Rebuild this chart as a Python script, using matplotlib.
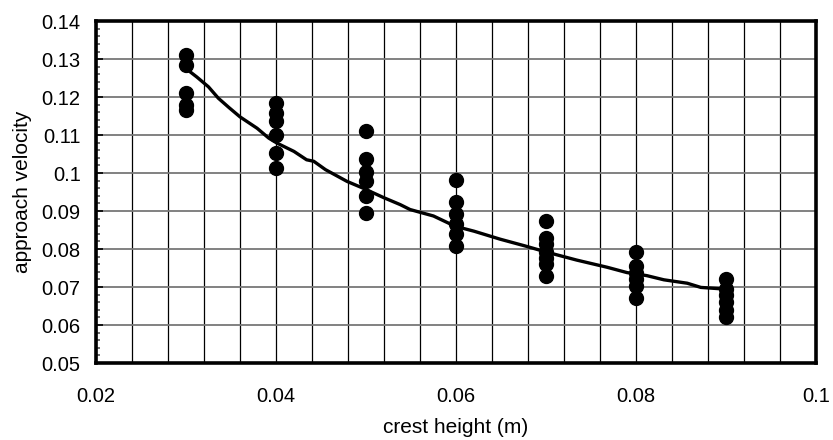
import matplotlib
matplotlib.use("Agg")
import matplotlib.pyplot as plt
from matplotlib.ticker import MultipleLocator

plt.rcParams['font.family'] = ['Liberation Sans', 'DejaVu Sans']

# Measured approach velocities at each crest height
crest_height = [0.03, 0.03, 0.03, 0.03, 0.03,
                0.04, 0.04, 0.04, 0.04, 0.04, 0.04,
                0.05, 0.05, 0.05, 0.05, 0.05, 0.05,
                0.06, 0.06, 0.06, 0.06, 0.06, 0.06,
                0.07, 0.07, 0.07, 0.07, 0.07, 0.07, 0.07,
                0.08, 0.08, 0.08, 0.08, 0.08, 0.08,
                0.09, 0.09, 0.09, 0.09, 0.09, 0.09]
approach_velocity = [0.1312, 0.1285, 0.1211, 0.1180, 0.1165,
                     0.1185, 0.1157, 0.1138, 0.1101, 0.1054, 0.1013,
                     0.1111, 0.1037, 0.1002, 0.0978, 0.0939, 0.0896,
                     0.0981, 0.0923, 0.0891, 0.0866, 0.0840, 0.0808,
                     0.0875, 0.0829, 0.0812, 0.0793, 0.0776, 0.0760, 0.0728,
                     0.0792, 0.0756, 0.0738, 0.0721, 0.0704, 0.0670,
                     0.0722, 0.0695, 0.0678, 0.0660, 0.0640, 0.0620]

# Fitted trend curve
trend_x = [0.0300, 0.0312, 0.0325, 0.0336, 0.0348, 0.0360, 0.0379, 0.0392,
           0.0401, 0.0420, 0.0434, 0.0442, 0.0455, 0.0479, 0.0496, 0.0520,
           0.0538, 0.0549, 0.0575, 0.0599, 0.0620, 0.0649, 0.0677, 0.0699,
           0.0734, 0.0768, 0.0790, 0.0812, 0.0831, 0.0857, 0.0872, 0.0896,
           0.0900]
trend_y = [0.1275, 0.1253, 0.1227, 0.1197, 0.1172, 0.1148, 0.1118, 0.1092,
           0.1079, 0.1057, 0.1035, 0.1031, 0.1009, 0.0978, 0.0961, 0.0935,
           0.0917, 0.0904, 0.0887, 0.0860, 0.0847, 0.0826, 0.0808, 0.0793,
           0.0771, 0.0752, 0.0738, 0.0730, 0.0719, 0.0710, 0.0699, 0.0695,
           0.0693]

fig = plt.figure(figsize=(8.33, 4.40), dpi=100)
ax = fig.add_axes([0.1152, 0.175, 0.8644, 0.777])

ax.set_xlim(0.02, 0.1)
ax.set_ylim(0.05, 0.14)

ax.xaxis.set_major_locator(MultipleLocator(0.02))
ax.xaxis.set_minor_locator(MultipleLocator(0.004))
ax.yaxis.set_major_locator(MultipleLocator(0.01))
ax.yaxis.set_minor_locator(MultipleLocator(0.002))

ax.grid(True, axis='x', which='both', color='black', linewidth=0.9)
ax.grid(True, axis='y', which='major', color='#777777', linewidth=1.3)
ax.set_axisbelow(True)

ax.plot(trend_x, trend_y, color='black', linewidth=2.4, zorder=3)
ax.plot(crest_height, approach_velocity, linestyle='none', marker='o',
        markersize=10, color='black', zorder=4)

ax.set_xticks([0.02, 0.04, 0.06, 0.08, 0.1])
ax.set_xticklabels(['0.02', '0.04', '0.06', '0.08', '0.1'])
ax.set_yticks([0.05, 0.06, 0.07, 0.08, 0.09, 0.1, 0.11, 0.12, 0.13, 0.14])
ax.set_yticklabels(['0.05', '0.06', '0.07', '0.08', '0.09', '0.1',
                    '0.11', '0.12', '0.13', '0.14'])

ax.tick_params(axis='x', which='both', length=0, labelsize=14.5, pad=17)
ax.tick_params(axis='y', which='major', direction='in', length=5, width=1.2,
               labelsize=14.5, pad=11)
ax.tick_params(axis='y', which='minor', direction='in', length=3, width=1.2,
               colors='#555555')

for side in ['left', 'right', 'top', 'bottom']:
    ax.spines[side].set_linewidth(2.6)
    ax.spines[side].set_color('black')

ax.set_xlabel('crest height (m)', fontsize=15, labelpad=9)
ax.set_ylabel('approach velocity', fontsize=15, labelpad=7)

fig.savefig('out.png', dpi=100)
